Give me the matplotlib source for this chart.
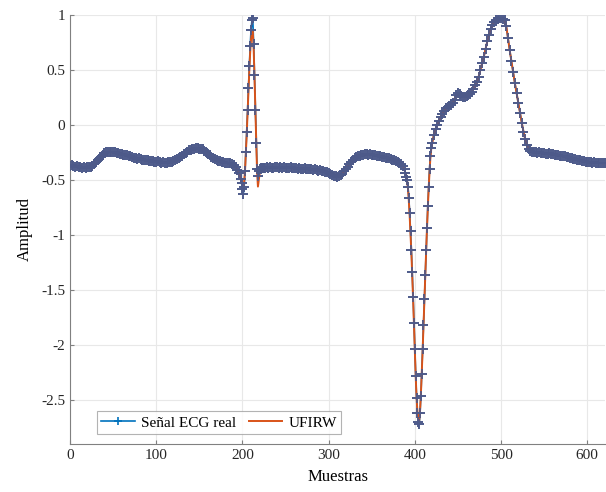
import numpy as np
import matplotlib
matplotlib.use('Agg')
import matplotlib.pyplot as plt

plt.rcParams['font.family'] = ['Liberation Serif', 'DejaVu Serif']
plt.rcParams['axes.unicode_minus'] = False

# ECG samples (step 2 on smooth parts, step 1 on QRS)
x_a = np.arange(0, 200, 2)
ecg_a = [-0.370, -0.365, -0.372, -0.378, -0.375, -0.382, -0.380, -0.388, -0.385, -0.390,
         -0.386, -0.383, -0.378, -0.370, -0.356, -0.340, -0.322, -0.305, -0.290, -0.272,
         -0.258, -0.250, -0.246, -0.242, -0.248, -0.244, -0.250, -0.255, -0.252, -0.262,
         -0.265, -0.270, -0.275, -0.272, -0.282, -0.286, -0.290, -0.296, -0.300, -0.305,
         -0.302, -0.310, -0.315, -0.318, -0.322, -0.318, -0.326, -0.330, -0.328, -0.334,
         -0.336, -0.332, -0.340, -0.342, -0.338, -0.345, -0.342, -0.340, -0.338, -0.335,
         -0.328, -0.322, -0.312, -0.302, -0.292, -0.282, -0.268, -0.255, -0.245, -0.232,
         -0.225, -0.218, -0.214, -0.210, -0.212, -0.218, -0.215, -0.222, -0.238, -0.250,
         -0.262, -0.275, -0.290, -0.302, -0.312, -0.320, -0.326, -0.332, -0.336, -0.340,
         -0.342, -0.345, -0.348, -0.350, -0.355, -0.365, -0.380, -0.405, -0.440, -0.490]

x_b = np.arange(199, 226)
ecg_b = [-0.53, -0.58, -0.63, -0.56, -0.42, -0.25, -0.06, 0.14, 0.34, 0.54,
         0.72, 0.86, 0.95, 0.97, 0.74, 0.45, 0.14, -0.16, -0.40, -0.46,
         -0.42, -0.40, -0.39, -0.40, -0.39, -0.395, -0.39]
ufirw_b = [-0.50, -0.54, -0.56, -0.52, -0.42, -0.26, -0.08, 0.12, 0.31, 0.50,
           0.66, 0.78, 0.84, 0.85, 0.70, 0.44, 0.14, -0.17, -0.43, -0.56,
           -0.50, -0.44, -0.41, -0.40, -0.39, -0.395, -0.39]

x_c = np.arange(226, 389, 2)
ecg_c = [-0.392, -0.385, -0.390, -0.382, -0.392, -0.388, -0.380, -0.386, -0.392, -0.384,
         -0.390, -0.386, -0.394, -0.388, -0.392, -0.386, -0.395, -0.392, -0.388, -0.398,
         -0.392, -0.396, -0.400, -0.394, -0.398, -0.404, -0.398, -0.402, -0.408, -0.404,
         -0.410, -0.414, -0.410, -0.418, -0.422, -0.428, -0.432, -0.438, -0.445, -0.452,
         -0.460, -0.466, -0.470, -0.468, -0.458, -0.442, -0.422, -0.400, -0.378, -0.355,
         -0.335, -0.318, -0.302, -0.292, -0.285, -0.278, -0.275, -0.270, -0.268, -0.266,
         -0.270, -0.268, -0.272, -0.276, -0.274, -0.280, -0.282, -0.286, -0.288, -0.292,
         -0.296, -0.300, -0.304, -0.308, -0.314, -0.320, -0.326, -0.334, -0.342, -0.355,
         -0.372, -0.400]

x_d = np.arange(389, 421)
ecg_d = [-0.44, -0.47, -0.50, -0.56, -0.66, -0.80, -0.96, -1.14, -1.34, -1.56,
         -1.80, -2.04, -2.28, -2.48, -2.62, -2.70, -2.72, -2.62, -2.46, -2.26,
         -2.04, -1.82, -1.58, -1.36, -1.14, -0.94, -0.74, -0.56, -0.40, -0.28,
         -0.21, -0.16]
ufirw_d = [-0.44, -0.47, -0.51, -0.58, -0.69, -0.83, -0.99, -1.17, -1.37, -1.59,
           -1.82, -2.06, -2.29, -2.48, -2.61, -2.68, -2.69, -2.60, -2.45, -2.26,
           -2.05, -1.83, -1.60, -1.38, -1.16, -0.95, -0.76, -0.58, -0.43, -0.30,
           -0.22, -0.17]

x_e = np.arange(422, 621, 2)
ecg_e = [-0.09, -0.04, 0.00, 0.04, 0.07, 0.10, 0.13, 0.15, 0.16, 0.17,
         0.18, 0.20, 0.23, 0.27, 0.29, 0.28, 0.26, 0.255, 0.25, 0.26,
         0.27, 0.28, 0.30, 0.33, 0.36, 0.39, 0.44, 0.50, 0.56, 0.62,
         0.69, 0.76, 0.82, 0.87, 0.91, 0.94, 0.955, 0.965, 0.97, 0.97,
         0.965, 0.95, 0.90, 0.79, 0.68, 0.58, 0.48, 0.38, 0.29, 0.20,
         0.11, 0.02, -0.06, -0.13, -0.18, -0.215, -0.235, -0.245, -0.248, -0.250,
         -0.252, -0.250, -0.255, -0.258, -0.255, -0.260, -0.262, -0.258, -0.265, -0.268,
         -0.272, -0.270, -0.276, -0.280, -0.282, -0.286, -0.284, -0.290, -0.294, -0.298,
         -0.302, -0.306, -0.310, -0.314, -0.318, -0.322, -0.326, -0.330, -0.334, -0.338,
         -0.340, -0.338, -0.344, -0.340, -0.346, -0.342, -0.348, -0.344, -0.350, -0.346]

muestras = np.concatenate([x_a, x_b, x_c, x_d, x_e])
ecg_real = np.concatenate([ecg_a, ecg_b, ecg_c, ecg_d, ecg_e])
# the filter output sits on top of the signal outside the QRS complexes
ufirw = np.concatenate([ecg_a, ufirw_b, ecg_c, ufirw_d, ecg_e])

xticks = [0, 100, 200, 300, 400, 500, 600]
yticks = [-2.5, -2, -1.5, -1, -0.5, 0, 0.5, 1]
ytick_labels = ['-2.5', '-2', '-1.5', '-1', '-0.5', '0', '0.5', '1']

fig = plt.figure(figsize=(6.06, 4.92), dpi=100)
ax = fig.add_axes([0.1155, 0.0976, 0.8835, 0.872])

blue = '#0072BD'
mk = '#4d5a8a'
ax.plot(muestras, ecg_real, '-+', color=blue, lw=1.2, ms=7, mew=1.2,
        mec=mk, label='Señal ECG real', zorder=2)
ax.plot(muestras, ufirw, '-', color='#D95319', lw=1.4, label='UFIRW', zorder=3)
# markers again on top so the flat parts look like the dense sample band
ax.plot(muestras, ecg_real, '+', ms=7, mew=1.2, mec=mk, zorder=4)

ax.set_xlim(0, 621)
ax.set_ylim(-2.9, 1.0)
ax.set_xticks(xticks)
ax.set_yticks(yticks)
ax.set_yticklabels(ytick_labels)
ax.grid(True, color='#e8e8e8', lw=0.8)
ax.set_axisbelow(True)
for s in ['top', 'right']:
    ax.spines[s].set_visible(False)
for s in ['left', 'bottom']:
    ax.spines[s].set_color('#808080')
ax.tick_params(direction='in', length=3, colors='#808080', labelcolor='#262626',
               labelsize=11)
ax.set_xlabel('Muestras', fontsize=12, labelpad=5)
ax.set_ylabel('Amplitud', fontsize=12, labelpad=6)

leg = ax.legend(loc='lower left', bbox_to_anchor=(0.036, 0.005), ncol=2,
                fontsize=11, fancybox=False, edgecolor='#a0a0a0',
                handlelength=2.2, columnspacing=0.8, borderpad=0.3,
                handletextpad=0.4)
leg.get_frame().set_linewidth(0.8)
handles = leg.legend_handles
handles[0].set_markersize(6)
handles[0].set_markeredgecolor(blue)

fig.savefig('out.png', dpi=100)
